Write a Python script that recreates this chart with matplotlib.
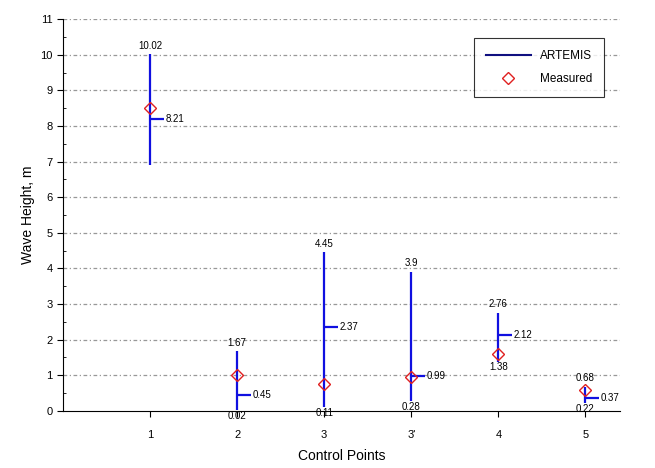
import numpy as np
import matplotlib
matplotlib.use("Agg")
import matplotlib.pyplot as plt
from matplotlib.ticker import MultipleLocator

# control points and ARTEMIS range / mean, plus measured values
points = ["1", "2", "3", "3'", "4", "5"]
art_max = [10.02, 1.67, 4.45, 3.9, 2.76, 0.68]
art_mean = [8.21, 0.45, 2.37, 0.99, 2.12, 0.37]
art_min = [6.9, 0.02, 0.11, 0.28, 1.38, 0.22]
measured = [8.5, 1.0, 0.75, 0.95, 1.6, 0.6]
max_labels = ["10.02", "1.67", "4.45", "3.9", "2.76", "0.68"]
mean_labels = ["8.21", "0.45", "2.37", "0.99", "2.12", "0.37"]
min_labels = ["", "0.02", "0.11", "0.28", "1.38", "0.22"]

plt.rcParams['font.family'] = ['Liberation Sans', 'DejaVu Sans']

fig = plt.figure(figsize=(6.55, 4.68), dpi=100)
ax = fig.add_axes([0.096, 0.122, 0.851, 0.837])

x = np.arange(1, len(points) + 1)

# grid lines (dash-dot, grey)
for yv in range(1, 12):
    ax.axhline(yv, color="#444444", lw=0.9, ls=(0, (3, 2, 1, 2)), alpha=0.55, zorder=0)

tick_len = 0.16
for i, xi in enumerate(x):
    ax.vlines(xi, art_min[i], art_max[i], color="#1010e0", lw=1.6, zorder=2)
    ax.hlines(art_mean[i], xi, xi + tick_len, color="#1010e0", lw=1.6, zorder=2)
    ax.text(xi, art_max[i] + 0.1, max_labels[i], ha="center", va="bottom", fontsize=7)
    ax.text(xi + tick_len + 0.02, art_mean[i], mean_labels[i], ha="left", va="center", fontsize=7)
    if min_labels[i]:
        ax.text(xi, art_min[i] - 0.02, min_labels[i], ha="center", va="top", fontsize=7)

ax.plot([], [], color="#101080", lw=1.5, label="ARTEMIS")
ax.plot(x, measured, ls="none", marker="D", ms=6, mfc="none", mec="#e02020",
        mew=1.0, label="Measured", zorder=3)

ax.set_xlim(0, 6.4)
ax.set_ylim(0, 11)
ax.set_xticks(x)
ax.set_xticklabels(points)
ax.yaxis.set_major_locator(MultipleLocator(1))
ax.yaxis.set_minor_locator(MultipleLocator(0.5))
ax.tick_params(axis="both", labelsize=8, length=4, width=0.8)
ax.tick_params(axis="x", pad=10)
ax.tick_params(axis="y", which="minor", length=2, direction="in")
ax.spines["top"].set_visible(False)
ax.spines["right"].set_visible(False)

ax.set_xlabel("Control Points", fontsize=10, labelpad=6)
ax.set_ylabel("Wave Height, m", fontsize=10)

leg = ax.legend(loc="upper right", bbox_to_anchor=(0.982, 0.966), fontsize=8.5,
                frameon=True, fancybox=False, edgecolor="black", handlelength=3.8,
                borderpad=1.0, labelspacing=0.9)
leg.get_frame().set_linewidth(0.8)

fig.savefig("out.png", dpi=100)
